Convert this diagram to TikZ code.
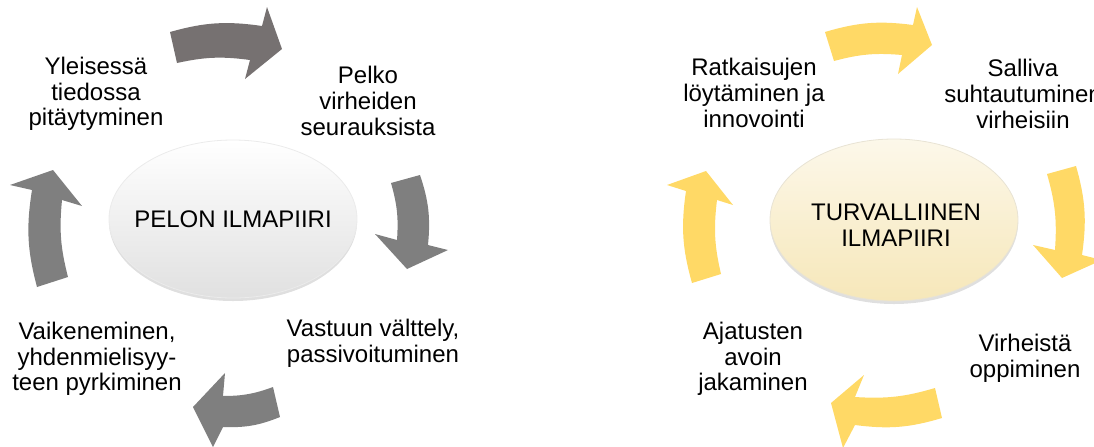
\documentclass[tikz,border=0pt]{standalone}
\usepackage{fontspec}
\setmainfont{Liberation Sans}
\usetikzlibrary{shadows,positioning}

\definecolor{pelkoharmaa}{HTML}{7F7F7F}
\definecolor{pelkotumma}{HTML}{767171}
\definecolor{turvakelta}{HTML}{FFD966}
\definecolor{turvakerma}{HTML}{F6E7B9}

\tikzset{
  teksti/.style={align=center,inner sep=0pt,font=\fontsize{12}{12.8}\selectfont},
  pallo/.style={drop shadow={opacity=0.25,shadow xshift=0pt,shadow yshift=-1.5pt}},
}

\begin{document}
\begin{tikzpicture}[x=0.5pt,y=-0.5pt]
  \useasboundingbox (0,0) rectangle (1094,446);
  \clip (0,0) rectangle (1094,446);

  % pelon ilmapiiri
  \path[pallo,top color=white,middle color=black!10,bottom color=black!12,draw=black!8] (233,219) ellipse [x radius=62pt,y radius=39.5pt];
  \node[teksti] (pelon) at (233,219) {PELON ILMAPIIRI};

  \fill[pelkotumma] (170,32) to[bend left=12] (262,26) -- (267,7) -- (282,49) -- (245,79) -- (250,60) to[bend right=10] (177,63) -- cycle;
  \fill[pelkoharmaa] (420,175) to[bend left=12] (428,245) -- (448,250) -- (407,269) -- (375,234) -- (397,240) to[bend right=10] (391,183) -- cycle;
  \fill[pelkoharmaa] (280,417) to[bend left=12] (223,427) -- (213,447) -- (193,407) -- (225,373) -- (223,396) to[bend right=10] (273,387) -- cycle;
  \fill[pelkoharmaa] (37,287) to[bend left=12] (32,190) -- (10,185) -- (53,170) -- (82,206) -- (62,200) to[bend right=10] (68,277) -- cycle;

  \node[teksti] (yleinen) at (96,94) {Yleisessä\\tiedossa\\pitäytyminen};
  \node[teksti] (pelko) at (368,101) {Pelko\\virheiden\\seurauksista};
  \node[teksti] (vastuu) at (373,343) {Vastuun välttely,\\passivoituminen};
  \node[teksti] (vaikeneminen) at (97,359) {Vaikeneminen,\\yhdenmielisyy-\\teen pyrkiminen};

  % turvallinen ilmapiiri
  \path[pallo,top color=turvakerma!30!white,middle color=turvakerma!85!white,bottom color=turvakerma,draw=turvakerma!80!black!40] (894,220) ellipse [x radius=62pt,y radius=40.5pt];
  \node[teksti] (turva) at (896,225) {TURVALLIINEN\\ILMAPIIRI};

  \fill[turvakelta] (825,32) to[bend left=12] (913,25) -- (917,7) -- (932,45) -- (898,74) -- (902,55) to[bend right=10] (834,61) -- cycle;
  \fill[turvakelta] (1076,166) to[bend left=12] (1082,255) -- (1102,260) -- (1062,278) -- (1033,245) -- (1055,250) to[bend right=10] (1047,174) -- cycle;
  \fill[turvakelta] (942,418) to[bend left=12] (855,425) -- (843,448) -- (831,403) -- (864,375) -- (855,397) to[bend right=10] (935,388) -- cycle;
  \fill[turvakelta] (692,283) to[bend left=12] (686,191) -- (667,185) -- (706,171) -- (733,205) -- (717,200) to[bend right=10] (721,274) -- cycle;

  \node[teksti] (ratkaisut) at (754,93) {Ratkaisujen\\löytäminen ja\\innovointi};
  \node[teksti] (salliva) at (1023,94) {Salliva\\suhtautuminen\\virheisiin};
  \node[teksti] (oppiminen) at (1025,358) {Virheistä\\oppiminen};
  \node[teksti] (ajatukset) at (753,359) {Ajatusten\\avoin\\jakaminen};
\end{tikzpicture}
\end{document}
